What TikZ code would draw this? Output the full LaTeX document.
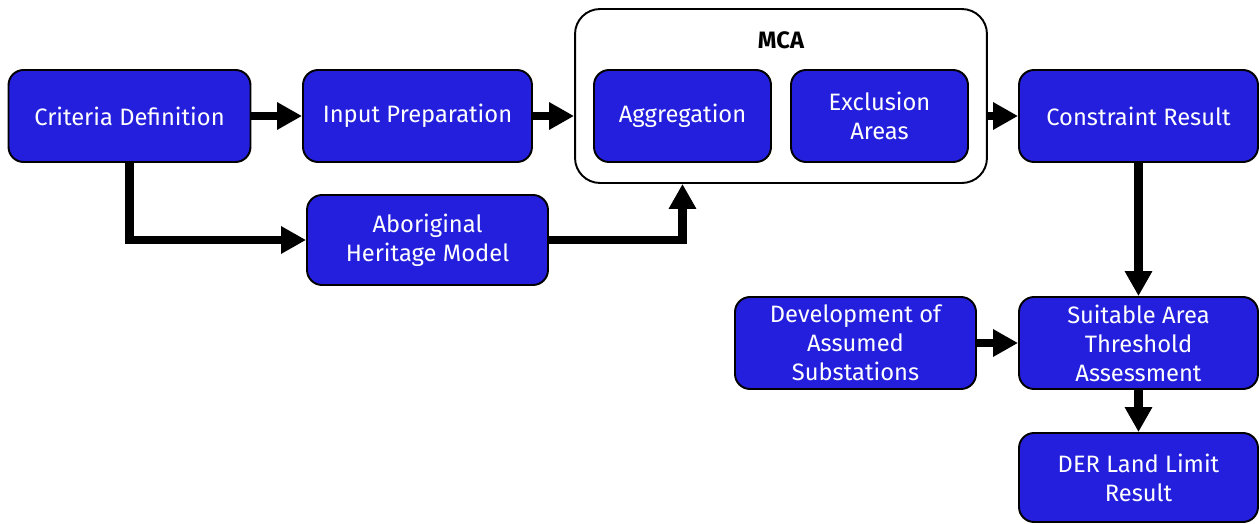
\documentclass[tikz,border=0pt]{standalone}
\usepackage{fontspec}
\setmainfont{Fira Sans}
\usetikzlibrary{arrows.meta}
\definecolor{boxblue}{RGB}{35,31,220}
\begin{document}
\begin{tikzpicture}[x=0.02cm,y=-0.02cm,
  stage/.style={draw=black,line width=1.1pt,rounded corners=0.3cm,fill=boxblue,text=white,
    align=center,inner sep=0pt,minimum height=1.84cm,font=\fontsize{13.5}{16.5}\selectfont},
  flow/.style={line width=5pt,-{Triangle[length=0.5cm,width=0.52cm]}}]
 \useasboundingbox (0,0) rectangle (1259,524);
 % MCA group
 \node[draw=black,line width=1.1pt,rounded corners=0.5cm,minimum width=8.24cm,minimum height=3.48cm] (mca) at (781,96) {};
 \node[font=\fontsize{13.5}{16.5}\selectfont\bfseries] (mcalabel) at (781,40) {MCA};
 \node[stage,minimum width=3.54cm] (agg) at (682.5,116) {Aggregation};
 \node[stage,minimum width=3.54cm] (excl) at (879.5,116) {Exclusion\\Areas};
 % stages
 \node[stage,minimum width=4.84cm] (crit) at (129.5,116) {Criteria Definition};
 \node[stage,minimum width=4.58cm] (input) at (417.5,116) {Input Preparation};
 \node[stage,minimum width=4.82cm,minimum height=1.8cm] (abor) at (427.5,240) {Aboriginal\\Heritage Model};
 \node[stage,minimum width=4.78cm] (cons) at (1138.5,116) {Constraint Result};
 \node[stage,minimum width=4.82cm] (dev) at (855.5,343) {Development of\\Assumed\\Substations};
 \node[stage,minimum width=4.78cm] (suit) at (1138.5,343) {Suitable Area\\Threshold\\Assessment};
 \node[stage,minimum width=4.78cm,minimum height=1.78cm] (der) at (1138.5,477.5) {DER Land Limit\\Result};
 % arrows
 \draw[flow] (crit) -- (input);
 \draw[flow] (crit.south) |- (abor.west);
 \draw[flow] (input) -- (mca.west |- input);
 \draw[flow] (abor.east) -| (mca.south -| agg);
 \draw[flow] (mca.east |- cons) -- (cons);
 \draw[flow] (cons) -- (suit);
 \draw[flow] (dev) -- (suit);
 \draw[flow] (suit) -- (der);
\end{tikzpicture}
\end{document}
